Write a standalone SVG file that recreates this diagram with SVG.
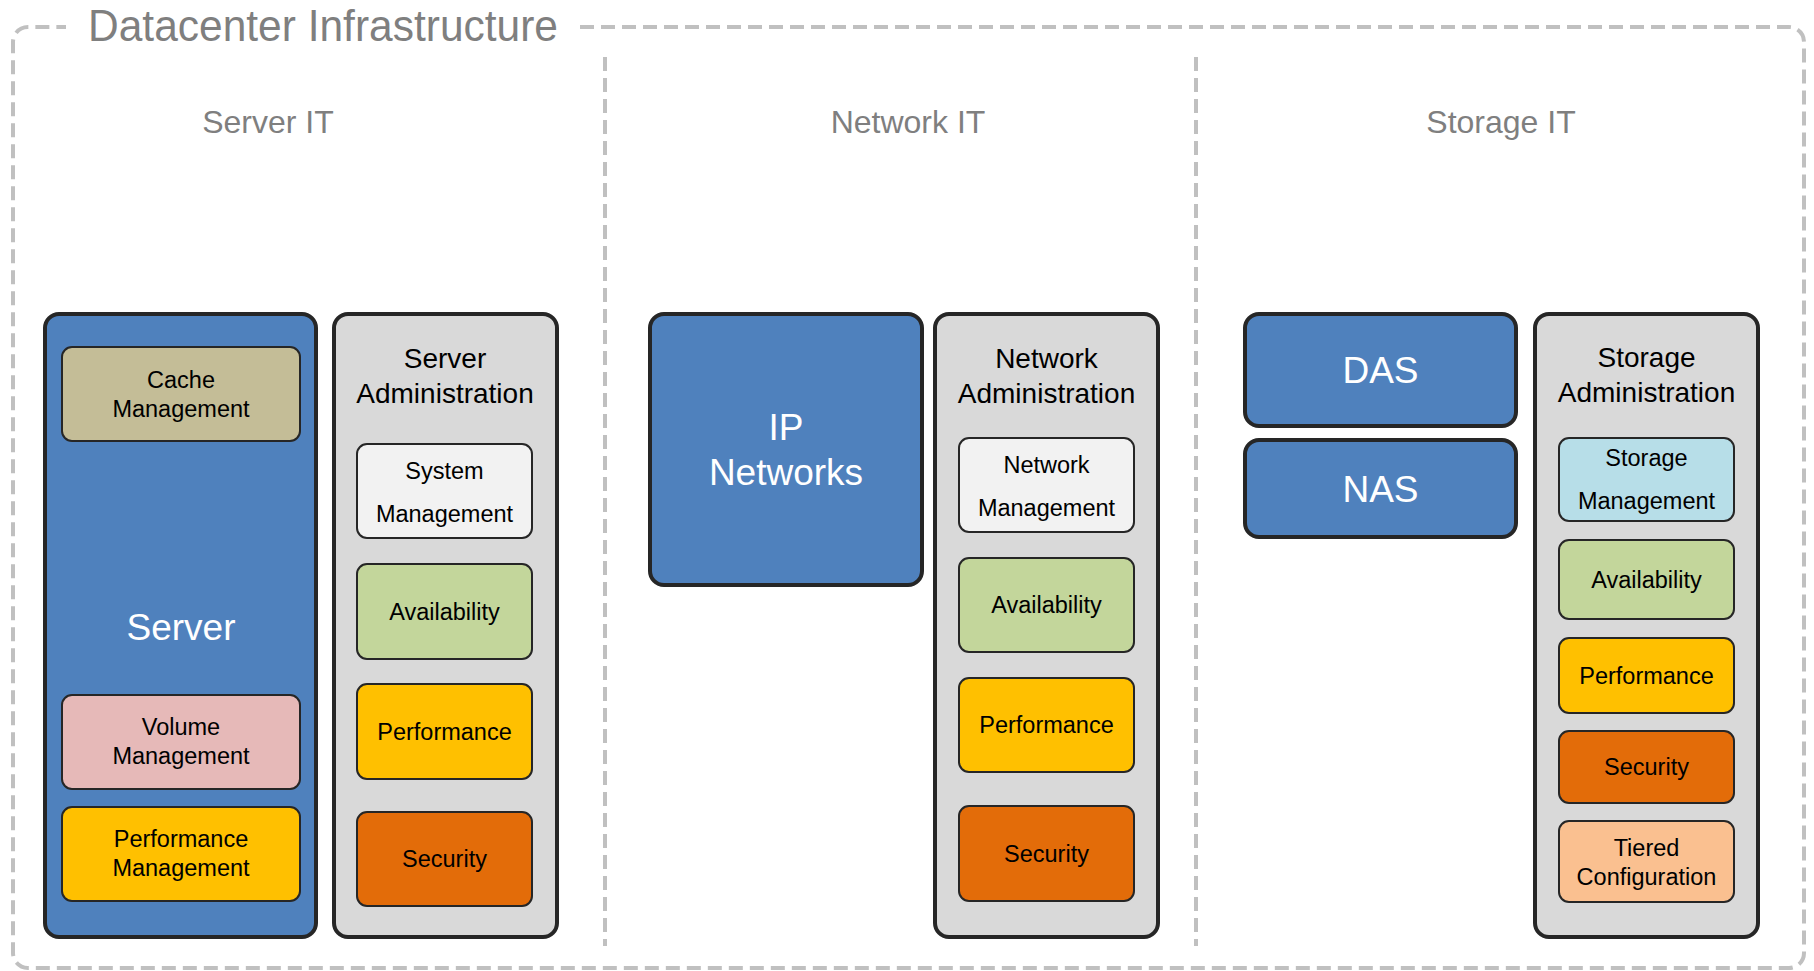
<svg xmlns="http://www.w3.org/2000/svg" width="1814" height="971" viewBox="0 0 1814 971">
<style>
text{font-family:"Liberation Sans",Arial,Helvetica,sans-serif;text-anchor:middle}
.frame{fill:none;stroke:#c0c0c0;stroke-width:4;stroke-dasharray:14 7}
.title{font-size:44px;fill:#7f7f7f}
.sec{font-size:32px;fill:#7f7f7f}
.big{stroke:#262626;stroke-width:4}
.blue{fill:#4f81bd}
.gray{fill:#d9d9d9}
.in{stroke:#262626;stroke-width:2}
.wt{font-size:37px;fill:#ffffff}
.adm{font-size:28px;fill:#000000}
.t{font-size:23.5px;fill:#000000}
.cache{fill:#c4bd97}.vol{fill:#e6b9b8}.perf{fill:#ffc000}.sys{fill:#f2f2f2}.avail{fill:#c3d69b}.sec2{fill:#e36c09}.stor{fill:#b7dee8}.tier{fill:#fac090}
</style>
<rect width="1814" height="971" fill="#ffffff"/>
<g id="frame">
<path class="frame" d="M580,27 H1789 A15,15 0 0 1 1804,42 V953 A15,15 0 0 1 1789,968 H28 A15,15 0 0 1 13,953 V42 A15,15 0 0 1 28,27 H66"/>
<text class="title" x="323" y="41" textLength="470" lengthAdjust="spacingAndGlyphs">Datacenter Infrastructure</text>
</g>
<g id="connectors">
<line class="frame" x1="605" y1="57" x2="605" y2="946"/>
<line class="frame" x1="1196" y1="57" x2="1196" y2="946"/>
</g>
<g id="section-titles">
<text class="sec" x="268" y="133">Server IT</text>
<text class="sec" x="908" y="133">Network IT</text>
<text class="sec" x="1501" y="133">Storage IT</text>
</g>
<g id="server">
<rect class="big blue" x="45" y="314" width="271" height="623" rx="14"/>
<text class="wt" x="181" y="640">Server</text>
</g>
<g id="cache-management">
<rect class="in cache" x="62" y="347" width="238" height="94" rx="10"/>
<text class="t" x="181" y="388">Cache</text><text class="t" x="181" y="417">Management</text>
</g>
<g id="volume-management">
<rect class="in vol" x="62" y="695" width="238" height="94" rx="10"/>
<text class="t" x="181" y="735">Volume</text><text class="t" x="181" y="764">Management</text>
</g>
<g id="performance-management">
<rect class="in perf" x="62" y="807" width="238" height="94" rx="10"/>
<text class="t" x="181" y="847">Performance</text><text class="t" x="181" y="876">Management</text>
</g>
<g id="server-administration">
<rect class="big gray" x="334" y="314" width="223" height="623" rx="14"/>
<text class="adm" x="445" y="368">Server</text><text class="adm" x="445" y="403">Administration</text>
</g>
<g id="system-management">
<rect class="in sys" x="357" y="444" width="175" height="94" rx="10"/>
<text class="t" x="444.5" y="479">System</text><text class="t" x="444.5" y="522">Management</text>
</g>
<g id="server-availability">
<rect class="in avail" x="357" y="564" width="175" height="95" rx="10"/>
<text class="t" x="444.5" y="620">Availability</text>
</g>
<g id="server-performance">
<rect class="in perf" x="357" y="684" width="175" height="95" rx="10"/>
<text class="t" x="444.5" y="740">Performance</text>
</g>
<g id="server-security">
<rect class="in sec2" x="357" y="812" width="175" height="94" rx="10"/>
<text class="t" x="444.5" y="867">Security</text>
</g>
<g id="ip-networks">
<rect class="big blue" x="650" y="314" width="272" height="271" rx="14"/>
<text class="wt" x="786" y="440">IP</text><text class="wt" x="786" y="485">Networks</text>
</g>
<g id="network-administration">
<rect class="big gray" x="935" y="314" width="223" height="623" rx="14"/>
<text class="adm" x="1046.5" y="368">Network</text><text class="adm" x="1046.5" y="403">Administration</text>
</g>
<g id="network-management">
<rect class="in sys" x="959" y="438" width="175" height="94" rx="10"/>
<text class="t" x="1046.5" y="473">Network</text><text class="t" x="1046.5" y="516">Management</text>
</g>
<g id="network-availability">
<rect class="in avail" x="959" y="558" width="175" height="94" rx="10"/>
<text class="t" x="1046.5" y="613">Availability</text>
</g>
<g id="network-performance">
<rect class="in perf" x="959" y="678" width="175" height="94" rx="10"/>
<text class="t" x="1046.5" y="733">Performance</text>
</g>
<g id="network-security">
<rect class="in sec2" x="959" y="806" width="175" height="95" rx="10"/>
<text class="t" x="1046.5" y="862">Security</text>
</g>
<g id="das">
<rect class="big blue" x="1245" y="314" width="271" height="112" rx="14"/>
<text class="wt" x="1380.5" y="383">DAS</text>
</g>
<g id="nas">
<rect class="big blue" x="1245" y="440" width="271" height="97" rx="14"/>
<text class="wt" x="1380.5" y="502">NAS</text>
</g>
<g id="storage-administration">
<rect class="big gray" x="1535" y="314" width="223" height="623" rx="14"/>
<text class="adm" x="1646.5" y="367">Storage</text><text class="adm" x="1646.5" y="402">Administration</text>
</g>
<g id="storage-management">
<rect class="in stor" x="1559" y="438" width="175" height="83" rx="10"/>
<text class="t" x="1646.5" y="466">Storage</text><text class="t" x="1646.5" y="509">Management</text>
</g>
<g id="storage-availability">
<rect class="in avail" x="1559" y="540" width="175" height="79" rx="10"/>
<text class="t" x="1646.5" y="588">Availability</text>
</g>
<g id="storage-performance">
<rect class="in perf" x="1559" y="638" width="175" height="75" rx="10"/>
<text class="t" x="1646.5" y="684">Performance</text>
</g>
<g id="storage-security">
<rect class="in sec2" x="1559" y="731" width="175" height="72" rx="10"/>
<text class="t" x="1646.5" y="775">Security</text>
</g>
<g id="tiered-configuration">
<rect class="in tier" x="1559" y="821" width="175" height="81" rx="10"/>
<text class="t" x="1646.5" y="856">Tiered</text><text class="t" x="1646.5" y="885">Configuration</text>
</g>
</svg>
